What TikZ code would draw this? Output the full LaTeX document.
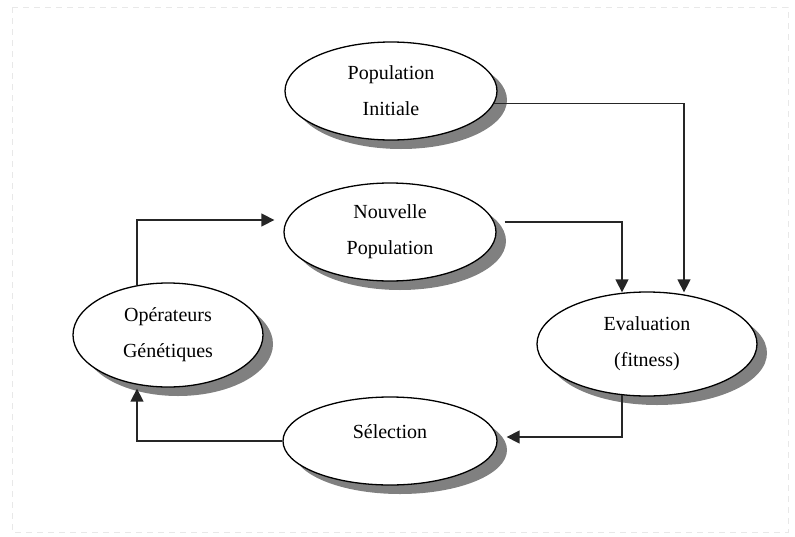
\documentclass[tikz,border=0pt]{standalone}
\usepackage{fontspec}
\setmainfont{Liberation Serif}
\usetikzlibrary{shapes.geometric,shadows,arrows.meta,calc}

\tikzset{
  oval/.style={ellipse, draw=black, line width=1.3pt, fill=white, inner sep=0pt,
    align=center, font=\fontsize{20}{36}\selectfont,
    drop shadow={shadow xshift=10pt, shadow yshift=-9pt, fill=black!50, opacity=1}},
  conn/.style={line width=1.4pt, draw=black!85,
    -{Triangle[length=13pt,width=13pt]}},
  frame/.style={draw=black!9, line width=1pt, dash pattern=on 6pt off 5pt}
}

\begin{document}
\begin{tikzpicture}[x=1pt,y=-1pt]
  \useasboundingbox (0,0) rectangle (795,536);
  \draw[frame] (12,7) rectangle (788,532);

  % the five stages of the loop
  \node[oval, minimum width=212pt, minimum height=98pt] (pi)  at (391,91)  {Population\\Initiale};
  \node[oval, minimum width=212pt, minimum height=98pt] (np)  at (390,232) {Nouvelle\\Population};
  \node[oval, minimum width=190pt, minimum height=104pt] (op) at (168,335) {Opérateurs\\Génétiques};
  \node[oval, minimum width=220pt, minimum height=104pt] (ev) at (647,344) {Evaluation\\(fitness)};
  \node[oval, minimum width=214pt, minimum height=88pt] (sel) at (390,441) {};
  \node[font=\fontsize{20}{36}\selectfont] (seltxt) at ($(sel.center)+(0,-9)$) {Sélection};

  % connection points on the borders
  \coordinate (piout) at (pi.-7);
  \coordinate (npout) at ($(np.east)+(8,-10)$);
  \coordinate (evin1) at ($(ev.north)+(37,1)$);
  \coordinate (evin2) at ($(ev.north)+(-25,1)$);
  \coordinate (evout) at ($(ev.south)+(-25,-2)$);
  \coordinate (selin) at ($(sel.east)+(9,-4)$);
  \coordinate (opin)  at ($(op.south)+(-31,1)$);
  \coordinate (opout) at ($(op.north)+(-31,3)$);
  \coordinate (npin)  at ($(np.west)+(-9,-12)$);

  \draw[conn] (piout) -| (evin1);
  \draw[conn] (npout) -| (evin2);
  \draw[conn] (evout) |- (selin);
  \draw[conn] (sel.west) -| (opin);
  \draw[conn] (opout) |- (npin);
\end{tikzpicture}
\end{document}
